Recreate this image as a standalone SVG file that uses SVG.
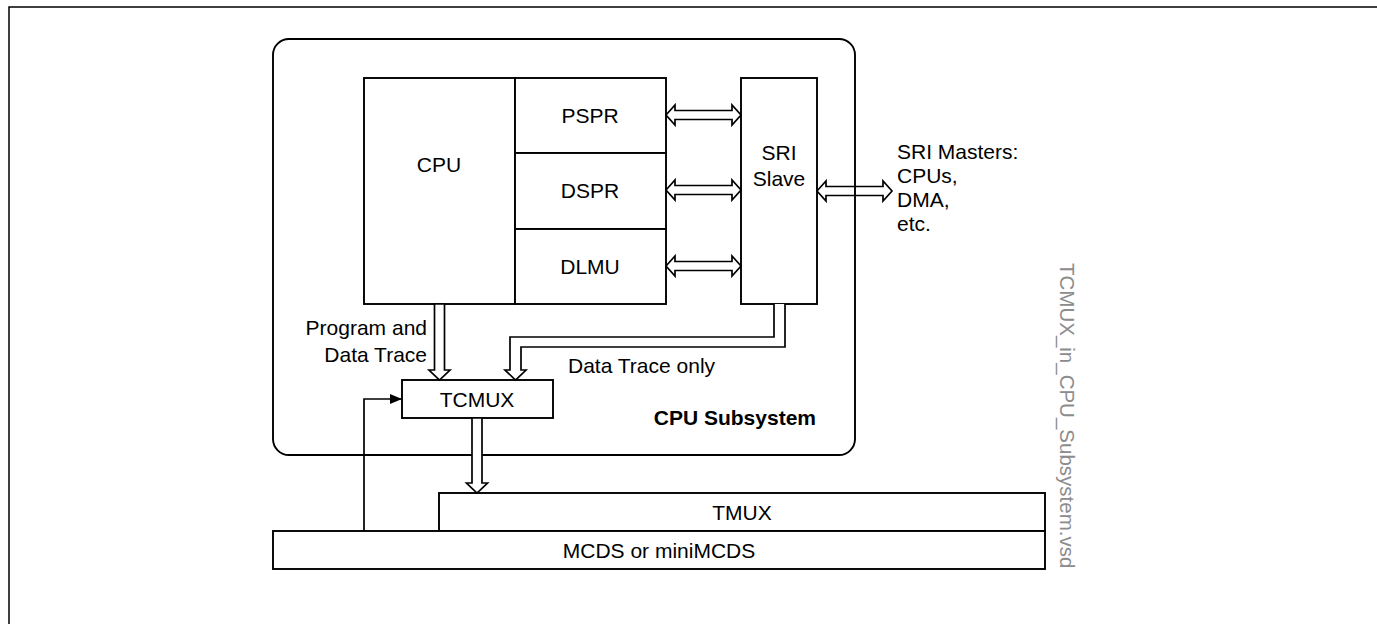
<svg xmlns="http://www.w3.org/2000/svg" width="1377" height="624" viewBox="0 0 1377 624">
<style>
.box{fill:#fff;stroke:#000;stroke-width:1.9}
.arr{fill:#fff;stroke:#000;stroke-width:1.7;stroke-linejoin:miter}
.ln{fill:none;stroke:#000;stroke-width:1.7}
text{font-family:"Liberation Sans",Arial,sans-serif;font-size:21px;fill:#000}
.c{text-anchor:middle}
.b{font-weight:bold}
.wm{fill:#8c8c8c;font-size:20.5px}
</style>
<defs>
<marker id="ah" markerWidth="12" markerHeight="10" refX="12" refY="5" orient="auto" markerUnits="userSpaceOnUse">
<path d="M0,0 L12,5 L0,10 Z" fill="#000"/>
</marker>
</defs>
<path d="M9,624 V7 H1377" fill="none" stroke="#000" stroke-width="1.5"/>
<g id="cpu-subsystem">
<rect x="273" y="39" width="582" height="416" rx="16" ry="16" class="box"/>
<text x="816" y="425" class="b" text-anchor="end">CPU Subsystem</text>
</g>
<g id="cpu"><rect x="364" y="78" width="151" height="226" class="box"/><text x="439" y="172" class="c">CPU</text></g>
<g id="pspr"><rect x="515" y="78" width="151" height="75" class="box"/><text x="590" y="123" class="c">PSPR</text></g>
<g id="dspr"><rect x="515" y="153" width="151" height="76" class="box"/><text x="590" y="198" class="c">DSPR</text></g>
<g id="dlmu"><rect x="515" y="229" width="151" height="75" class="box"/><text x="590" y="274" class="c">DLMU</text></g>
<g id="sri-slave"><rect x="741" y="78" width="76" height="226" class="box"/><text x="779" y="160" class="c">SRI</text><text x="779" y="186" class="c">Slave</text></g>
<g id="tcmux"><rect x="402" y="380" width="151" height="38" class="box"/><text x="477" y="407" class="c">TCMUX</text></g>
<g id="tmux"><rect x="439" y="493" width="606" height="38" class="box"/><text x="742" y="520" class="c">TMUX</text></g>
<g id="mcds"><rect x="273" y="531" width="772" height="38" class="box"/><text x="659" y="558" class="c">MCDS or miniMCDS</text></g>
<g id="connectors">
<polygon class="arr" points="666,115 675,105 675,110.5 732,110.5 732,105 741,115 732,125 732,119.5 675,119.5 675,125"/>
<polygon class="arr" points="666,190 675,180 675,185.5 732,185.5 732,180 741,190 732,200 732,194.5 675,194.5 675,200"/>
<polygon class="arr" points="666,266 675,256 675,261.5 732,261.5 732,256 741,266 732,276 732,270.5 675,270.5 675,276"/>
<polygon class="arr" style="fill:none" points="817,191 826,181 826,186.5 883,186.5 883,181 892,191 883,201 883,195.5 826,195.5 826,201"/>
<polygon class="arr" points="434.5,304 434.5,370 429,370 439.5,380 450,370 444.5,370 444.5,304"/>
<path class="arr" d="M774,304 V337 H510 V370 H505 L515.5,380 L526,370 H521 V347 H785 V304"/>
<polygon class="arr" points="472,418 472,483 466.5,483 477,493 487.5,483 482,483 482,418"/>
<path class="ln" d="M364,531 V399 H402" marker-end="url(#ah)"/>
</g>
<g id="labels">
<text x="427" y="335" text-anchor="end">Program and</text>
<text x="427" y="362" text-anchor="end">Data Trace</text>
<text x="568" y="373">Data Trace only</text>
<text x="897" y="159">SRI Masters:</text>
<text x="897" y="183">CPUs,</text>
<text x="897" y="207">DMA,</text>
<text x="897" y="231">etc.</text>
<text class="wm" transform="translate(1060,263) rotate(90)">TCMUX_in_CPU_Subsystem.vsd</text>
</g>
</svg>
